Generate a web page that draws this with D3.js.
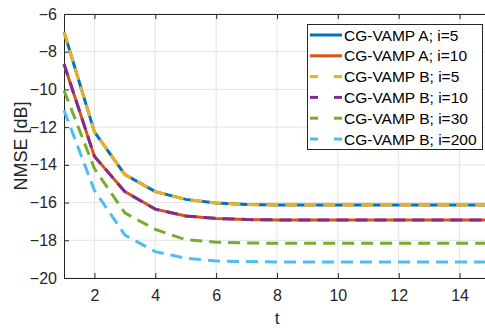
<!DOCTYPE html>
<html>
<head>
<meta charset="utf-8">
<script src="https://cdn.jsdelivr.net/npm/d3@7"></script>
<style>
  body { margin: 0; background: #fff; overflow: hidden; }
  svg { display: block; font-family: "Liberation Sans", Arial, sans-serif; }
</style>
</head>
<body>
<svg id="chart" width="485" height="328"></svg>
<script>
// iterations
const tValues = [1, 2, 3, 4, 5, 6, 7, 8, 9, 10, 11, 12, 13, 14, 15];

// NMSE [dB]
const vampA5 = [-6.95, -12.25, -14.52, -15.42, -15.83, -16.02, -16.1, -16.13, -16.13, -16.13, -16.13, -16.13, -16.13, -16.13, -16.13];
const vampA10 = [-8.65, -13.55, -15.42, -16.35, -16.71, -16.84, -16.9, -16.92, -16.92, -16.92, -16.92, -16.92, -16.92, -16.92, -16.92];
const vampB5 = vampA5.slice();
const vampB10 = vampA10.slice();
const vampB30 = [-10.05, -14.2, -16.55, -17.42, -17.97, -18.1, -18.14, -18.16, -18.16, -18.16, -18.16, -18.16, -18.16, -18.16, -18.16];
const vampB200 = [-11.1, -15.35, -17.72, -18.6, -18.95, -19.1, -19.13, -19.15, -19.15, -19.15, -19.15, -19.15, -19.15, -19.15, -19.15];

const seriesNames = ["CG-VAMP A; i=5", "CG-VAMP A; i=10", "CG-VAMP B; i=5", "CG-VAMP B; i=10", "CG-VAMP B; i=30", "CG-VAMP B; i=200"];
const seriesValues = [vampA5, vampA10, vampB5, vampB10, vampB30, vampB200];
const seriesColors = ["#0072BD", "#D95319", "#EDB120", "#7E2F8E", "#77AC30", "#4DBEEE"];
const seriesDashed = [false, false, true, true, true, true];

const xTicks = [2, 4, 6, 8, 10, 12, 14];
const yTicks = [-20, -18, -16, -14, -12, -10, -8, -6];

const margin = {left: 64, top: 14, right: 490, bottom: 278};
const svg = d3.select("#chart");

const x = d3.scaleLinear().domain([1, 15]).range([margin.left, margin.right]);
const y = d3.scaleLinear().domain([-20, -6]).range([margin.bottom, margin.top]);

// grid
const grid = svg.append("g").attr("stroke", "#e3e3e3").attr("stroke-width", 1);
grid.selectAll("line.gx").data(xTicks).join("line")
    .attr("x1", d => x(d)).attr("x2", d => x(d))
    .attr("y1", margin.top).attr("y2", margin.bottom);
grid.selectAll("line.gy").data(yTicks).join("line")
    .attr("y1", d => y(d)).attr("y2", d => y(d))
    .attr("x1", margin.left).attr("x2", margin.right);

// axes
const axisColor = "#262626";
const xAxis = svg.append("g")
    .attr("transform", `translate(0,${margin.bottom})`)
    .call(d3.axisBottom(x).tickValues(xTicks).tickSizeInner(-5).tickSizeOuter(0).tickPadding(12));
const yAxis = svg.append("g")
    .attr("transform", `translate(${margin.left},0)`)
    .call(d3.axisLeft(y).tickValues(yTicks).tickSizeInner(-5).tickSizeOuter(0).tickPadding(7));
[xAxis, yAxis].forEach(a => {
    a.select(".domain").attr("stroke", axisColor);
    a.selectAll(".tick line").attr("stroke", axisColor);
    a.selectAll(".tick text").attr("fill", axisColor).style("font-size", "16px");
});

// top and right box with inward ticks
const box = svg.append("g").attr("stroke", axisColor).attr("stroke-width", 1);
box.append("line").attr("x1", margin.left).attr("x2", margin.right)
    .attr("y1", margin.top + 0.5).attr("y2", margin.top + 0.5);
box.append("line").attr("x1", margin.right - 0.5).attr("x2", margin.right - 0.5)
    .attr("y1", margin.top).attr("y2", margin.bottom);
box.selectAll("line.tt").data(xTicks).join("line")
    .attr("x1", d => x(d) + 0.5).attr("x2", d => x(d) + 0.5)
    .attr("y1", margin.top).attr("y2", margin.top + 5);
box.selectAll("line.tr").data(yTicks).join("line")
    .attr("y1", d => y(d) + 0.5).attr("y2", d => y(d) + 0.5)
    .attr("x1", margin.right).attr("x2", margin.right - 5);

// lines
const line = d3.line().x((d, i) => x(tValues[i])).y(d => y(d));
const lines = svg.append("g").attr("fill", "none");
seriesValues.forEach((vals, k) => {
    lines.append("path")
        .datum(vals)
        .attr("d", line)
        .attr("stroke", seriesColors[k])
        .attr("stroke-width", 3)
        .attr("stroke-dasharray", seriesDashed[k] ? "12,7" : null);
});

// axis labels
svg.append("text")
    .attr("x", (margin.left + margin.right) / 2).attr("y", 324)
    .attr("text-anchor", "middle").attr("fill", axisColor)
    .style("font-size", "17px").text("t");
svg.append("text")
    .attr("transform", `translate(27,${(margin.top + margin.bottom) / 2}) rotate(-90)`)
    .attr("text-anchor", "middle").attr("fill", axisColor)
    .style("font-size", "18px").text("NMSE [dB]");

// legend
const legend = svg.append("g").attr("transform", "translate(307,24)");
legend.append("rect")
    .attr("x", 0.5).attr("y", 0.5).attr("width", 175).attr("height", 125)
    .attr("fill", "#fff").attr("stroke", axisColor).attr("stroke-width", 1);
seriesNames.forEach((name, k) => {
    const yy = 11 + k * 20.8;
    const g = legend.append("g");
    if (seriesDashed[k]) {
        g.append("line").attr("x1", 3).attr("x2", 11).attr("y1", yy).attr("y2", yy)
            .attr("stroke", seriesColors[k]).attr("stroke-width", 3);
        g.append("line").attr("x1", 27).attr("x2", 35).attr("y1", yy).attr("y2", yy)
            .attr("stroke", seriesColors[k]).attr("stroke-width", 3);
    } else {
        g.append("line").attr("x1", 3).attr("x2", 35).attr("y1", yy).attr("y2", yy)
            .attr("stroke", seriesColors[k]).attr("stroke-width", 3);
    }
    g.append("text").attr("x", 37).attr("y", yy + 5.5)
        .attr("fill", "#000").style("font-size", "15.5px").text(name);
});
</script>
</body>
</html>
